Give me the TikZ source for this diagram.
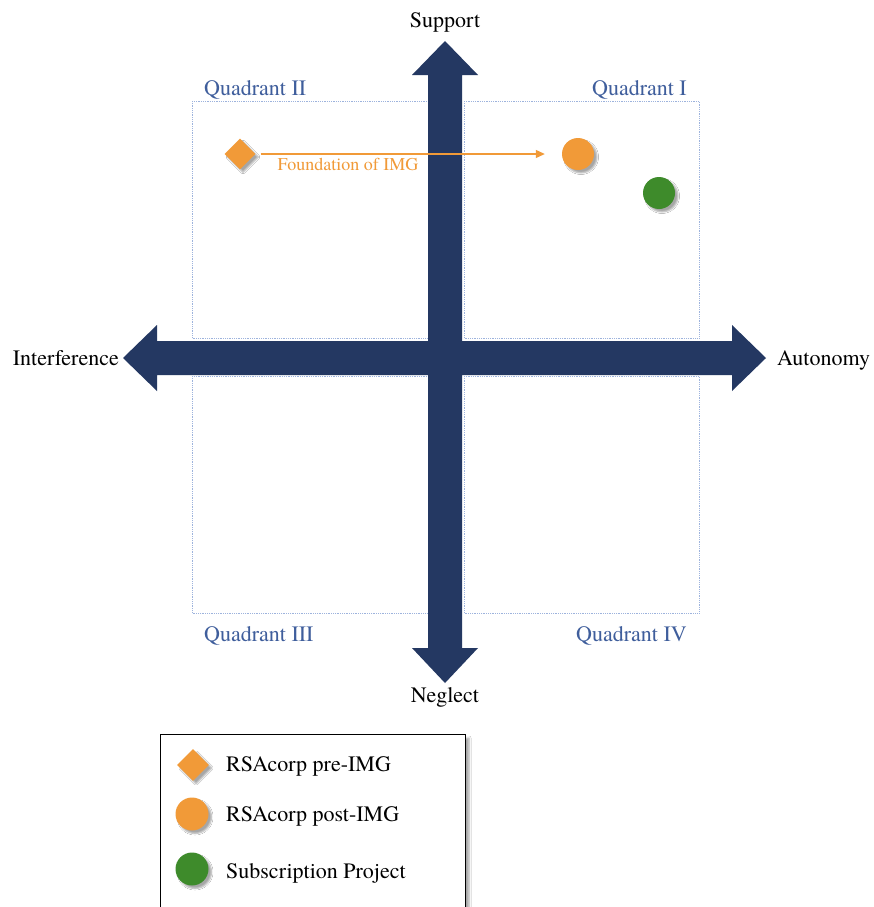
\documentclass[tikz,border=0pt]{standalone}
\usepackage{fontspec}
\IfFontExistsTF{texgyretermes-regular.otf}
  {\setmainfont{texgyretermes-regular.otf}[BoldFont=texgyretermes-bold.otf]}
  {\setmainfont{Liberation Serif}}
\usetikzlibrary{shadows,shadows.blur,arrows.meta,shapes.geometric}

\definecolor{navy}{HTML}{243862}
\definecolor{qblue}{HTML}{3F5E9C}
\definecolor{gridblue}{HTML}{9DB3DD}
\definecolor{amber}{HTML}{F19A38}
\definecolor{leaf}{HTML}{3E8B2B}

\begin{document}
\begin{tikzpicture}[x=1pt,y=-1pt,
  qbox/.style={draw=gridblue, densely dotted, line width=0.8pt},
  qlabel/.style={text=qblue, font=\fontsize{22}{26}\selectfont, inner sep=0pt, anchor=base west},
  axlabel/.style={font=\fontsize{22}{26}\selectfont, inner sep=0pt},
  markshade/.style={blur shadow={shadow xshift=3pt, shadow yshift=-3pt, shadow blur radius=1.5pt, shadow blur steps=5, shadow blur extra rounding=0pt, shadow opacity=35}},
  premark/.style={diamond, fill=amber, minimum size=31pt, inner sep=0pt, markshade},
  postmark/.style={circle, fill=amber, minimum size=32pt, inner sep=0pt, markshade},
  subsmark/.style={circle, fill=leaf, minimum size=32pt, inner sep=0pt, markshade},
  legtext/.style={font=\fontsize{22}{26}\selectfont, inner sep=0pt, anchor=base west},
]
% canvas
\clip (0,0) rectangle (874,907);
\fill[white] (0,0) rectangle (874,907);

% quadrant frames
\draw[qbox] (192,101) rectangle (428,338);
\draw[qbox] (464,101) rectangle (699,338);
\draw[qbox] (192,376) rectangle (428,613);
\draw[qbox] (464,376) rectangle (699,613);

% quadrant titles
\node[qlabel] (q2) at (204,95) {Quadrant II};
\node[qlabel, anchor=base east] (q1) at (687,95) {Quadrant I};
\node[qlabel] (q3) at (204,641) {Quadrant III};
\node[qlabel, anchor=base east] (q4) at (687,641) {Quadrant IV};

% the two block arrows forming the axes
\fill[navy] (123,358) -- (157,325) -- (157,341) -- (428,341) -- (428,75)
  -- (412,75) -- (445,41) -- (478,75) -- (462,75) -- (462,341)
  -- (732,341) -- (732,325) -- (766,358) -- (732,391) -- (732,375)
  -- (462,375) -- (462,648) -- (478,648) -- (445,683) -- (412,648)
  -- (428,648) -- (428,375) -- (157,375) -- (157,391) -- cycle;

% axis labels
\node[axlabel, anchor=base] (sup) at (445,28) {Support};
\node[axlabel, anchor=base] (neg) at (445,702) {Neglect};
\node[axlabel, anchor=base east] (intf) at (119,365) {Interference};
\node[axlabel, anchor=base west] (auto) at (777,365) {Autonomy};

% positions
\node[premark] (pre) at (240,154) {};
\node[postmark] (post) at (578,154) {};
\node[subsmark] (subs) at (659,193) {};

\draw[amber, line width=1.2pt, shorten <=5pt, shorten >=17pt,
  -{Triangle[length=9pt, width=8pt]}] (pre.east) -- (post.west);
\node[font=\fontsize{18}{22}\selectfont, text=amber, inner sep=0pt, anchor=base]
  (found) at (348,170.5) {Foundation of IMG};

% legend
\draw[black, line width=0.8pt, fill=white,
  blur shadow={shadow xshift=4pt, shadow yshift=-4pt, shadow blur radius=2pt, shadow blur steps=5, shadow opacity=35}]
  (160,734) rectangle (465,930);
\node[premark, minimum size=32pt] (lpre) at (193,765) {};
\node[postmark, minimum size=33pt] (lpost) at (192,814) {};
\node[subsmark, minimum size=33pt] (lsubs) at (192,869) {};
\node[legtext] (tpre) at (226,771.5) {RSAcorp pre-IMG};
\node[legtext] (tpost) at (226,821.5) {RSAcorp post-IMG};
\node[legtext] (tsubs) at (226,878) {Subscription Project};
\end{tikzpicture}
\end{document}
